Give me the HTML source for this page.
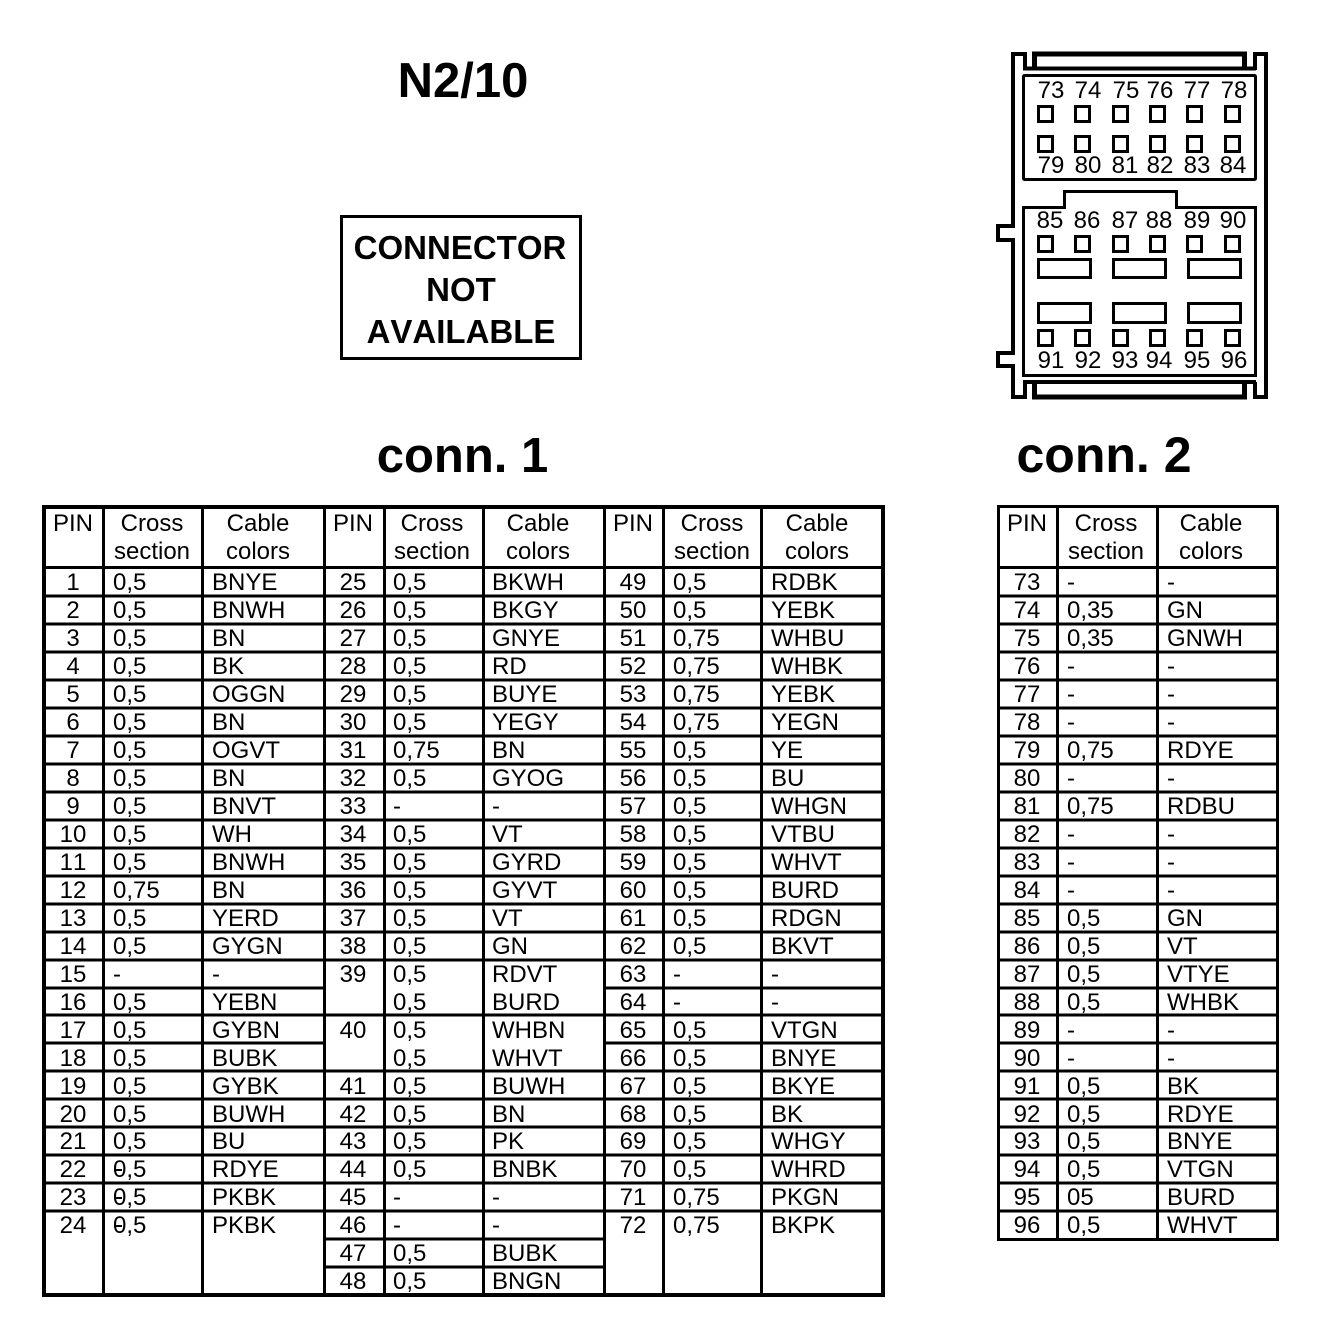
<!DOCTYPE html>
<html><head><meta charset="utf-8"><style>
html,body{margin:0;padding:0;background:#fff}
svg{display:block}
text{font-family:"Liberation Sans",sans-serif;fill:#000;font-kerning:none}
.t{font-size:24px}
.m text,.m{text-anchor:middle}
.b{font-weight:bold}
</style></head><body>
<svg xmlns="http://www.w3.org/2000/svg" width="1328" height="1334" viewBox="0 0 1328 1334">
<rect width="1328" height="1334" fill="#fff"/>
<!-- titles -->
<text class="b" x="463" y="97" font-size="49" text-anchor="middle">N2/10</text>
<text class="b" x="462.500" y="472" font-size="49" text-anchor="middle">conn. 1</text>
<text class="b" x="1104" y="472" font-size="50" text-anchor="middle">conn. 2</text>
<rect x="341.500" y="216.500" width="239" height="142" fill="none" stroke="#000" stroke-width="3" shape-rendering="crispEdges"/>
<g class="b m" font-size="33"><text x="460" y="259">CONNECTOR</text><text x="461" y="301">NOT</text><text x="461" y="343">AVAILABLE</text></g>

<!-- connector drawing -->
<g fill="none" stroke="#000" stroke-width="4" stroke-linejoin="miter">
<path d="M1025 70V54H1013V226H998V240H1013V353H998V366H1013V397H1025V382"/>
<path d="M1023 68.500H1256M1023 382H1256"/>
<path d="M1255 382V397H1266V54H1255V70"/>
<path stroke-width="5" d="M1034.500 68V54H1244.500V68M1034.500 382V397H1244.500V382"/>
</g>
<g fill="none" stroke="#000" stroke-width="3">
<rect x="1023.500" y="75.500" width="232" height="104" rx="1"/>
<path d="M1023.500 207.500H1064.500V191.500H1176.500V207.500H1255.500V375.500H1023.500Z"/>
<!-- rect pins -->
<rect x="1038.500" y="259.500" width="52" height="18"/><rect x="1113.500" y="259.500" width="52" height="18"/><rect x="1188.500" y="259.500" width="52" height="18"/>
<rect x="1038.500" y="303.500" width="52" height="19"/><rect x="1113.500" y="303.500" width="52" height="19"/><rect x="1188.500" y="303.500" width="52" height="19"/>
<!-- small squares -->
<rect x="1038.500" y="106.500" width="14" height="15"/><rect x="1075.500" y="106.500" width="14" height="15"/><rect x="1113.500" y="106.500" width="14" height="15"/><rect x="1150.500" y="106.500" width="14" height="15"/><rect x="1187.500" y="106.500" width="14" height="15"/><rect x="1225.500" y="106.500" width="14" height="15"/>
<rect x="1038.500" y="136.500" width="14" height="15"/><rect x="1075.500" y="136.500" width="14" height="15"/><rect x="1113.500" y="136.500" width="14" height="15"/><rect x="1150.500" y="136.500" width="14" height="15"/><rect x="1187.500" y="136.500" width="14" height="15"/><rect x="1225.500" y="136.500" width="14" height="15"/>
<rect x="1038.500" y="236.500" width="14" height="15"/><rect x="1075.500" y="236.500" width="14" height="15"/><rect x="1113.500" y="236.500" width="14" height="15"/><rect x="1150.500" y="236.500" width="14" height="15"/><rect x="1187.500" y="236.500" width="14" height="15"/><rect x="1225.500" y="236.500" width="14" height="15"/>
<rect x="1038.500" y="330.500" width="14" height="15"/><rect x="1075.500" y="330.500" width="14" height="15"/><rect x="1113.500" y="330.500" width="14" height="15"/><rect x="1150.500" y="330.500" width="14" height="15"/><rect x="1187.500" y="330.500" width="14" height="15"/><rect x="1225.500" y="330.500" width="14" height="15"/>
</g>
<g class="t m">
<text x="1051" y="98">73</text><text x="1088" y="98">74</text><text x="1126" y="98">75</text><text x="1160" y="98">76</text><text x="1197" y="98">77</text><text x="1234" y="98">78</text>
<text x="1051" y="173">79</text><text x="1088" y="173">80</text><text x="1125" y="173">81</text><text x="1160" y="173">82</text><text x="1197" y="173">83</text><text x="1233" y="173">84</text>
<text x="1050" y="228">85</text><text x="1087" y="228">86</text><text x="1125" y="228">87</text><text x="1159" y="228">88</text><text x="1197" y="228">89</text><text x="1233" y="228">90</text>
<text x="1051" y="368">91</text><text x="1088" y="368">92</text><text x="1125" y="368">93</text><text x="1159" y="368">94</text><text x="1197" y="368">95</text><text x="1234" y="368">96</text>
</g>

<!-- table 1 lines -->
<g shape-rendering="crispEdges" fill="none" stroke="#000">
<rect x="44" y="507" width="839" height="788" stroke-width="4"/>
<path stroke-width="3" d="M103.500 507V1295M202.500 507V1295M324.500 507V1295M384.500 507V1295M483.500 507V1295M604.500 507V1295M663.500 507V1295M761.500 507V1295M44 567.500H883"/>
<path stroke-width="3" d="M44 596H324M44 624H324M44 652H324M44 680H324M44 708H324M44 736H324M44 764H324M44 792H324M44 820H324M44 848H324M44 876H324M44 904H324M44 932H324M44 960H324M44 988H324M44 1015H324M44 1043H324M44 1071H324M44 1099H324M44 1127H324M44 1155H324M44 1183H324M44 1211H324"/>
<path stroke-width="3" d="M324 596H604M324 624H604M324 652H604M324 680H604M324 708H604M324 736H604M324 764H604M324 792H604M324 820H604M324 848H604M324 876H604M324 904H604M324 932H604M324 960H604M324 1015H604M324 1071H604M324 1099H604M324 1127H604M324 1155H604M324 1183H604M324 1211H604M324 1239H604M324 1267H604"/>
<path stroke-width="3" d="M604 596H883M604 624H883M604 652H883M604 680H883M604 708H883M604 736H883M604 764H883M604 792H883M604 820H883M604 848H883M604 876H883M604 904H883M604 932H883M604 960H883M604 988H883M604 1015H883M604 1043H883M604 1071H883M604 1099H883M604 1127H883M604 1155H883M604 1183H883M604 1211H883"/>
<!-- table 2 lines -->
<rect x="998.500" y="506.500" width="279" height="733" stroke-width="3"/>
<path stroke-width="3" d="M1057.500 507V1239M1157.500 507V1239M999 567.500H1277M999 596H1277M999 624H1277M999 652H1277M999 680H1277M999 708H1277M999 736H1277M999 764H1277M999 792H1277M999 820H1277M999 848H1277M999 876H1277M999 904H1277M999 932H1277M999 960H1277M999 988H1277M999 1015H1277M999 1043H1277M999 1071H1277M999 1099H1277M999 1127H1277M999 1155H1277M999 1183H1277M999 1211H1277"/>
<!-- stray marks on rows 22-24 -->
<path stroke-width="2" d="M114 1170H122M114 1198H122M114 1226H122"/>
</g>

<!-- headers -->
<g class="t m">
<text x="73" y="531">PIN</text><text x="152" y="531">Cross</text><text x="152" y="559">section</text><text x="258" y="531">Cable</text><text x="258" y="559">colors</text>
<text x="353" y="531">PIN</text><text x="432" y="531">Cross</text><text x="432" y="559">section</text><text x="538" y="531">Cable</text><text x="538" y="559">colors</text>
<text x="633" y="531">PIN</text><text x="712" y="531">Cross</text><text x="712" y="559">section</text><text x="817" y="531">Cable</text><text x="817" y="559">colors</text>
<text x="1027" y="531">PIN</text><text x="1106" y="531">Cross</text><text x="1106" y="559">section</text><text x="1211" y="531">Cable</text><text x="1211" y="559">colors</text>
</g>

<!-- pin numbers -->
<g class="t m">
<text x="73" y="590">1</text><text x="73" y="618">2</text><text x="73" y="646">3</text><text x="73" y="674">4</text><text x="73" y="702">5</text><text x="73" y="730">6</text><text x="73" y="758">7</text><text x="73" y="786">8</text><text x="73" y="814">9</text><text x="73" y="842">10</text><text x="73" y="870">11</text><text x="73" y="898">12</text><text x="73" y="926">13</text><text x="73" y="954">14</text><text x="73" y="982">15</text><text x="73" y="1010">16</text><text x="73" y="1038">17</text><text x="73" y="1066">18</text><text x="73" y="1094">19</text><text x="73" y="1122">20</text><text x="73" y="1149">21</text><text x="73" y="1177">22</text><text x="73" y="1205">23</text><text x="73" y="1233">24</text>
<text x="353" y="590">25</text><text x="353" y="618">26</text><text x="353" y="646">27</text><text x="353" y="674">28</text><text x="353" y="702">29</text><text x="353" y="730">30</text><text x="353" y="758">31</text><text x="353" y="786">32</text><text x="353" y="814">33</text><text x="353" y="842">34</text><text x="353" y="870">35</text><text x="353" y="898">36</text><text x="353" y="926">37</text><text x="353" y="954">38</text><text x="353" y="982">39</text><text x="353" y="1038">40</text><text x="353" y="1094">41</text><text x="353" y="1122">42</text><text x="353" y="1149">43</text><text x="353" y="1177">44</text><text x="353" y="1205">45</text><text x="353" y="1233">46</text><text x="353" y="1261">47</text><text x="353" y="1289">48</text>
<text x="633" y="590">49</text><text x="633" y="618">50</text><text x="633" y="646">51</text><text x="633" y="674">52</text><text x="633" y="702">53</text><text x="633" y="730">54</text><text x="633" y="758">55</text><text x="633" y="786">56</text><text x="633" y="814">57</text><text x="633" y="842">58</text><text x="633" y="870">59</text><text x="633" y="898">60</text><text x="633" y="926">61</text><text x="633" y="954">62</text><text x="633" y="982">63</text><text x="633" y="1010">64</text><text x="633" y="1038">65</text><text x="633" y="1066">66</text><text x="633" y="1094">67</text><text x="633" y="1122">68</text><text x="633" y="1149">69</text><text x="633" y="1177">70</text><text x="633" y="1205">71</text><text x="633" y="1233">72</text>
<text x="1027" y="590">73</text><text x="1027" y="618">74</text><text x="1027" y="646">75</text><text x="1027" y="674">76</text><text x="1027" y="702">77</text><text x="1027" y="730">78</text><text x="1027" y="758">79</text><text x="1027" y="786">80</text><text x="1027" y="814">81</text><text x="1027" y="842">82</text><text x="1027" y="870">83</text><text x="1027" y="898">84</text><text x="1027" y="926">85</text><text x="1027" y="954">86</text><text x="1027" y="982">87</text><text x="1027" y="1010">88</text><text x="1027" y="1038">89</text><text x="1027" y="1066">90</text><text x="1027" y="1094">91</text><text x="1027" y="1122">92</text><text x="1027" y="1149">93</text><text x="1027" y="1177">94</text><text x="1027" y="1205">95</text><text x="1027" y="1233">96</text>
</g>

<!-- cross sections and colours -->
<g class="t">
<text x="113" y="590">0,5</text><text x="212" y="590">BNYE</text>
<text x="113" y="618">0,5</text><text x="212" y="618">BNWH</text>
<text x="113" y="646">0,5</text><text x="212" y="646">BN</text>
<text x="113" y="674">0,5</text><text x="212" y="674">BK</text>
<text x="113" y="702">0,5</text><text x="212" y="702">OGGN</text>
<text x="113" y="730">0,5</text><text x="212" y="730">BN</text>
<text x="113" y="758">0,5</text><text x="212" y="758">OGVT</text>
<text x="113" y="786">0,5</text><text x="212" y="786">BN</text>
<text x="113" y="814">0,5</text><text x="212" y="814">BNVT</text>
<text x="113" y="842">0,5</text><text x="212" y="842">WH</text>
<text x="113" y="870">0,5</text><text x="212" y="870">BNWH</text>
<text x="113" y="898">0,75</text><text x="212" y="898">BN</text>
<text x="113" y="926">0,5</text><text x="212" y="926">YERD</text>
<text x="113" y="954">0,5</text><text x="212" y="954">GYGN</text>
<text x="113" y="982">-</text><text x="212" y="982">-</text>
<text x="113" y="1010">0,5</text><text x="212" y="1010">YEBN</text>
<text x="113" y="1038">0,5</text><text x="212" y="1038">GYBN</text>
<text x="113" y="1066">0,5</text><text x="212" y="1066">BUBK</text>
<text x="113" y="1094">0,5</text><text x="212" y="1094">GYBK</text>
<text x="113" y="1122">0,5</text><text x="212" y="1122">BUWH</text>
<text x="113" y="1149">0,5</text><text x="212" y="1149">BU</text>
<text x="113" y="1177">0,5</text><text x="212" y="1177">RDYE</text>
<text x="113" y="1205">0,5</text><text x="212" y="1205">PKBK</text>
<text x="113" y="1233">0,5</text><text x="212" y="1233">PKBK</text>

<text x="393" y="590">0,5</text><text x="492" y="590">BKWH</text>
<text x="393" y="618">0,5</text><text x="492" y="618">BKGY</text>
<text x="393" y="646">0,5</text><text x="492" y="646">GNYE</text>
<text x="393" y="674">0,5</text><text x="492" y="674">RD</text>
<text x="393" y="702">0,5</text><text x="492" y="702">BUYE</text>
<text x="393" y="730">0,5</text><text x="492" y="730">YEGY</text>
<text x="393" y="758">0,75</text><text x="492" y="758">BN</text>
<text x="393" y="786">0,5</text><text x="492" y="786">GYOG</text>
<text x="393" y="814">-</text><text x="492" y="814">-</text>
<text x="393" y="842">0,5</text><text x="492" y="842">VT</text>
<text x="393" y="870">0,5</text><text x="492" y="870">GYRD</text>
<text x="393" y="898">0,5</text><text x="492" y="898">GYVT</text>
<text x="393" y="926">0,5</text><text x="492" y="926">VT</text>
<text x="393" y="954">0,5</text><text x="492" y="954">GN</text>
<text x="393" y="982">0,5</text><text x="492" y="982">RDVT</text>
<text x="393" y="1010">0,5</text><text x="492" y="1010">BURD</text>
<text x="393" y="1038">0,5</text><text x="492" y="1038">WHBN</text>
<text x="393" y="1066">0,5</text><text x="492" y="1066">WHVT</text>
<text x="393" y="1094">0,5</text><text x="492" y="1094">BUWH</text>
<text x="393" y="1122">0,5</text><text x="492" y="1122">BN</text>
<text x="393" y="1149">0,5</text><text x="492" y="1149">PK</text>
<text x="393" y="1177">0,5</text><text x="492" y="1177">BNBK</text>
<text x="393" y="1205">-</text><text x="492" y="1205">-</text>
<text x="393" y="1233">-</text><text x="492" y="1233">-</text>
<text x="393" y="1261">0,5</text><text x="492" y="1261">BUBK</text>
<text x="393" y="1289">0,5</text><text x="492" y="1289">BNGN</text>

<text x="673" y="590">0,5</text><text x="771" y="590">RDBK</text>
<text x="673" y="618">0,5</text><text x="771" y="618">YEBK</text>
<text x="673" y="646">0,75</text><text x="771" y="646">WHBU</text>
<text x="673" y="674">0,75</text><text x="771" y="674">WHBK</text>
<text x="673" y="702">0,75</text><text x="771" y="702">YEBK</text>
<text x="673" y="730">0,75</text><text x="771" y="730">YEGN</text>
<text x="673" y="758">0,5</text><text x="771" y="758">YE</text>
<text x="673" y="786">0,5</text><text x="771" y="786">BU</text>
<text x="673" y="814">0,5</text><text x="771" y="814">WHGN</text>
<text x="673" y="842">0,5</text><text x="771" y="842">VTBU</text>
<text x="673" y="870">0,5</text><text x="771" y="870">WHVT</text>
<text x="673" y="898">0,5</text><text x="771" y="898">BURD</text>
<text x="673" y="926">0,5</text><text x="771" y="926">RDGN</text>
<text x="673" y="954">0,5</text><text x="771" y="954">BKVT</text>
<text x="673" y="982">-</text><text x="771" y="982">-</text>
<text x="673" y="1010">-</text><text x="771" y="1010">-</text>
<text x="673" y="1038">0,5</text><text x="771" y="1038">VTGN</text>
<text x="673" y="1066">0,5</text><text x="771" y="1066">BNYE</text>
<text x="673" y="1094">0,5</text><text x="771" y="1094">BKYE</text>
<text x="673" y="1122">0,5</text><text x="771" y="1122">BK</text>
<text x="673" y="1149">0,5</text><text x="771" y="1149">WHGY</text>
<text x="673" y="1177">0,5</text><text x="771" y="1177">WHRD</text>
<text x="673" y="1205">0,75</text><text x="771" y="1205">PKGN</text>
<text x="673" y="1233">0,75</text><text x="771" y="1233">BKPK</text>

<text x="1067" y="590">-</text><text x="1167" y="590">-</text>
<text x="1067" y="618">0,35</text><text x="1167" y="618">GN</text>
<text x="1067" y="646">0,35</text><text x="1167" y="646">GNWH</text>
<text x="1067" y="674">-</text><text x="1167" y="674">-</text>
<text x="1067" y="702">-</text><text x="1167" y="702">-</text>
<text x="1067" y="730">-</text><text x="1167" y="730">-</text>
<text x="1067" y="758">0,75</text><text x="1167" y="758">RDYE</text>
<text x="1067" y="786">-</text><text x="1167" y="786">-</text>
<text x="1067" y="814">0,75</text><text x="1167" y="814">RDBU</text>
<text x="1067" y="842">-</text><text x="1167" y="842">-</text>
<text x="1067" y="870">-</text><text x="1167" y="870">-</text>
<text x="1067" y="898">-</text><text x="1167" y="898">-</text>
<text x="1067" y="926">0,5</text><text x="1167" y="926">GN</text>
<text x="1067" y="954">0,5</text><text x="1167" y="954">VT</text>
<text x="1067" y="982">0,5</text><text x="1167" y="982">VTYE</text>
<text x="1067" y="1010">0,5</text><text x="1167" y="1010">WHBK</text>
<text x="1067" y="1038">-</text><text x="1167" y="1038">-</text>
<text x="1067" y="1066">-</text><text x="1167" y="1066">-</text>
<text x="1067" y="1094">0,5</text><text x="1167" y="1094">BK</text>
<text x="1067" y="1122">0,5</text><text x="1167" y="1122">RDYE</text>
<text x="1067" y="1149">0,5</text><text x="1167" y="1149">BNYE</text>
<text x="1067" y="1177">0,5</text><text x="1167" y="1177">VTGN</text>
<text x="1067" y="1205">05</text><text x="1167" y="1205">BURD</text>
<text x="1067" y="1233">0,5</text><text x="1167" y="1233">WHVT</text>
</g>
</svg>
</body></html>
